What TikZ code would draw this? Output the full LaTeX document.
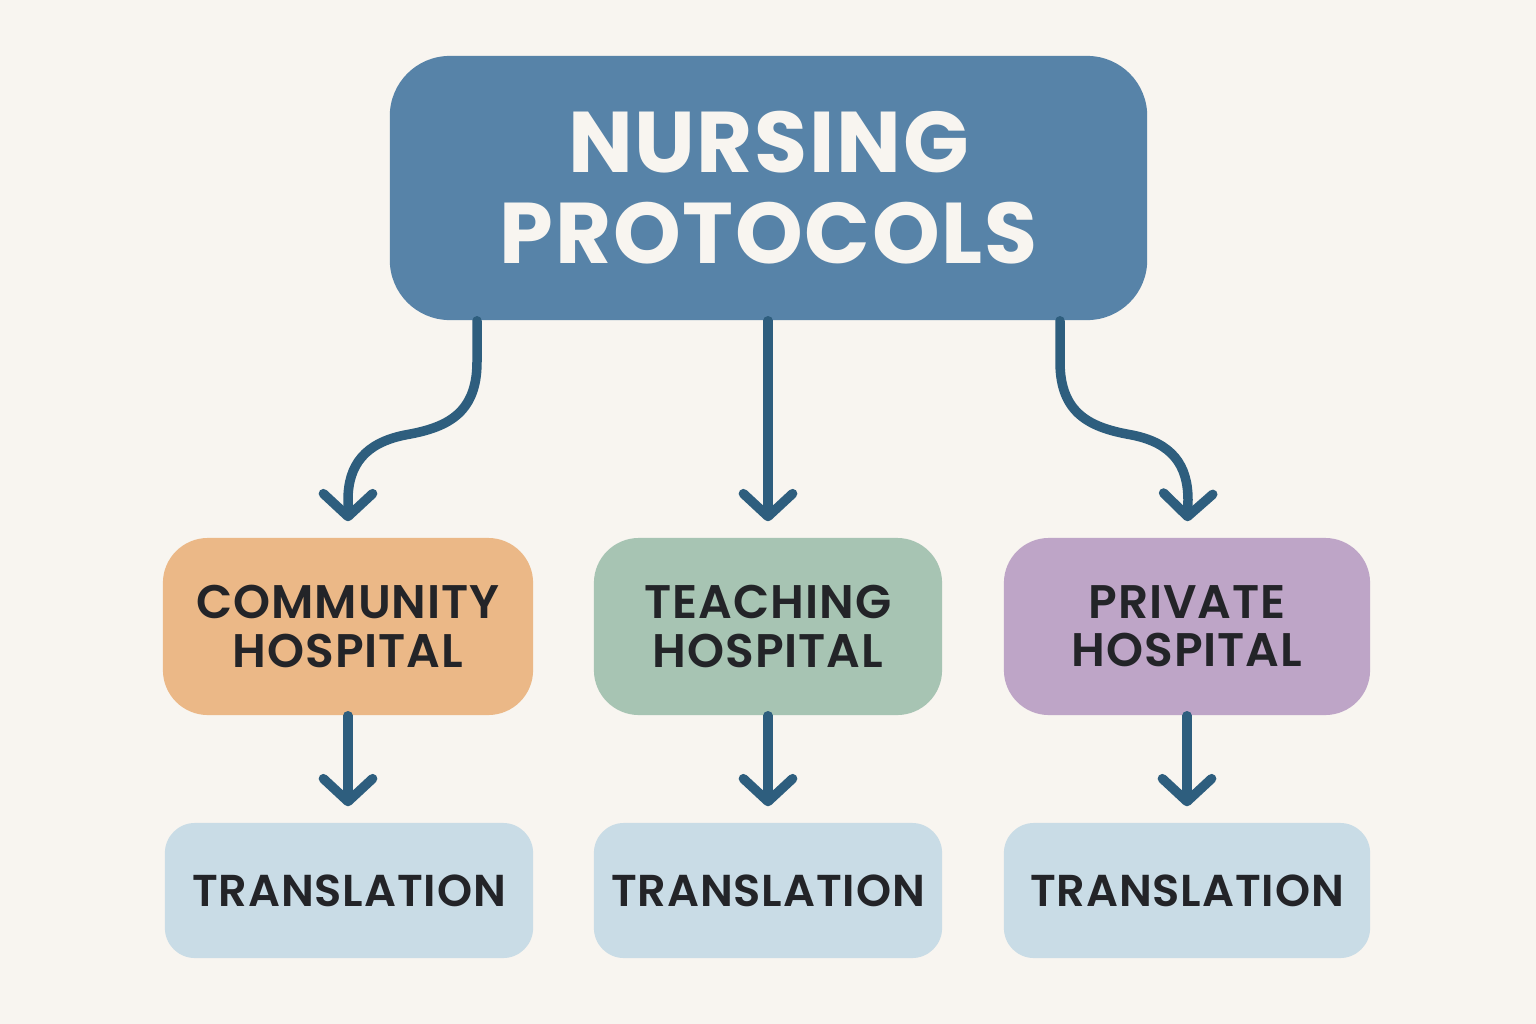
\documentclass[tikz,border=0pt]{standalone}
\usepackage{fontspec}
\usetikzlibrary{arrows.meta}
\newfontfamily\titlefont[LetterSpace=2]{Poppins}
\newfontfamily\boxfont[UprightFont=* SemiBold,LetterSpace=2]{Poppins}
\definecolor{bgc}{HTML}{F8F5F0}
\definecolor{topc}{HTML}{5783A8}
\definecolor{arrc}{HTML}{2E5E7E}
\definecolor{orc}{HTML}{EBB887}
\definecolor{grc}{HTML}{A7C4B3}
\definecolor{puc}{HTML}{BEA5C7}
\definecolor{blc}{HTML}{C9DCE6}
\definecolor{txc}{HTML}{232428}
\begin{document}
\begin{tikzpicture}[x=0.01cm,y=-0.01cm,
  topbox/.style={draw=none,fill=topc,rounded corners=0.6cm,minimum width=7.57cm,minimum height=2.64cm,
    text=bgc,align=center,font=\titlefont\bfseries\fontsize{24.5}{25.9}\selectfont,inner sep=0pt},
  midbox/.style={draw=none,rounded corners=0.45cm,minimum height=1.77cm,text=txc,align=center,
    font=\boxfont\fontsize{13.4}{13.7}\selectfont,inner sep=0pt},
  lowbox/.style={draw=none,fill=blc,rounded corners=0.3cm,minimum height=1.35cm,text=txc,align=center,
    font=\boxfont\fontsize{12.7}{13}\selectfont,inner sep=0pt},
  conn/.style={draw=arrc,line width=2.7pt,line cap=round,
    -{Straight Barb[length=6.5pt,width=14pt,line cap=round,line join=round]},shorten >=0.16cm}]
\fill[bgc] (0,0) rectangle (1536,1024);
\useasboundingbox (0,0) rectangle (1536,1024);
\node[topbox] (top) at (768.5,188) {NURSING\\PROTOCOLS};
\node[midbox,fill=orc,minimum width=3.70cm] (comm) at (348,626.5) {COMMUNITY\\HOSPITAL};
\node[midbox,fill=grc,minimum width=3.48cm] (teach) at (768,626.5) {TEACHING\\HOSPITAL};
\node[midbox,fill=puc,minimum width=3.66cm] (priv) at (1187,626.5) {PRIVATE\\HOSPITAL};
\node[lowbox,minimum width=3.68cm] (t1) at (349,890.5) {TRANSLATION};
\node[lowbox,minimum width=3.48cm] (t2) at (768,890.5) {TRANSLATION};
\node[lowbox,minimum width=3.66cm] (t3) at (1187,890.5) {TRANSLATION};
\draw[conn] (top.south -| 477,0) -- (477,362) .. controls (477,415) and (445,428) .. (405,435)
  .. controls (365,443) and (348,465) .. (348,500) -- (comm.north);
\draw[conn] (top.south -| teach.north) -- (teach.north);
\draw[conn] (top.south -| 1060,0) -- (1060,362) .. controls (1060,415) and (1092,428) .. (1132,435)
  .. controls (1172,443) and (1188,465) .. (1188,500) -- (priv.north);
\draw[conn] (comm.south) -- (t1.north -| comm.south);
\draw[conn] (teach.south) -- (t2.north);
\draw[conn] (priv.south) -- (t3.north -| priv.south);
\end{tikzpicture}
\end{document}
